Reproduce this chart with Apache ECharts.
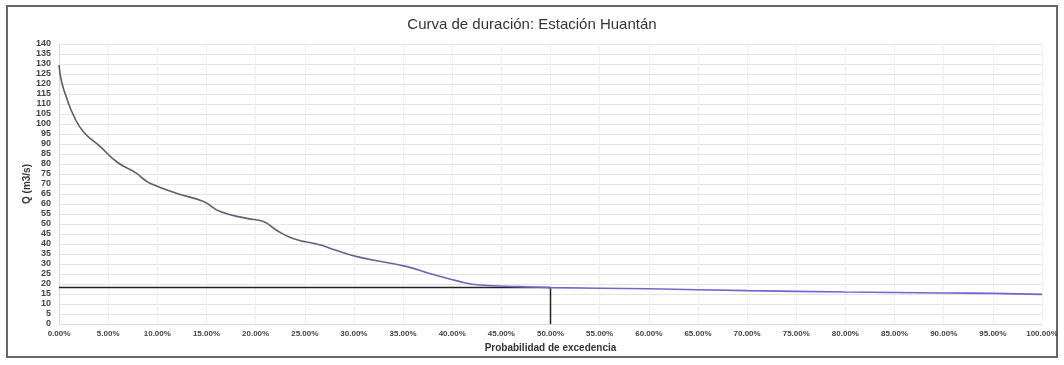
<!DOCTYPE html>
<html>
<head>
<meta charset="utf-8">
<script src="https://cdn.jsdelivr.net/npm/echarts@6/dist/echarts.min.js"></script>
<style>
  html, body { margin: 0; padding: 0; background: #fff; }
  #chart { width: 1064px; height: 365px; }
</style>
</head>
<body>
<div id="chart"></div>
<script>
// Flow duration curve: exceedance probability (%) vs discharge Q (m3/s)
const probability = [0, 0.27, 0.78, 1.46, 2.5, 4.2, 5.9, 7.9, 8.6, 9.3, 12.0, 14.7, 16.4, 19.1, 20.8, 22.1, 23.8, 26.6, 27.6, 30.3, 35.4, 37.7, 40.8, 42.8, 46.9, 50, 60, 70, 80, 90, 95, 100];
const discharge   = [129.5, 121, 113, 104.5, 96, 88.7, 81, 75.3, 72.5, 70.3, 65.3, 61.2, 56.2, 52.8, 51.2, 47, 42.8, 39.5, 37.8, 33.7, 28.7, 25.3, 21.2, 19.5, 18.7, 18.2, 17.6, 16.7, 16.0, 15.5, 15.3, 14.8];

// Median flow (Q50) reference
const medianProb = 50;
const medianQ = 18.2;

const xTicks = { min: 0, max: 100, interval: 5 };
const yTicks = { min: 0, max: 140, interval: 5 };

const curve = probability.map((p, i) => [p, discharge[i]]);
const medianGuide = [[0, medianQ], [medianProb, medianQ], [medianProb, 0]];

const chart = echarts.init(document.getElementById('chart'), null, { renderer: 'canvas' });
const labelFont = "'Liberation Sans Narrow', 'Arial Narrow', 'Liberation Sans', sans-serif";
const textFont = "'Liberation Sans', Arial, sans-serif";

chart.setOption({
  animation: false,
  backgroundColor: '#fff',
  title: {
    text: 'Curva de duración: Estación Huantán',
    left: 'center',
    top: 12,
    textStyle: { fontFamily: textFont, fontSize: 15, fontWeight: 'normal', color: '#333' }
  },
  graphic: [{
    type: 'rect',
    shape: { x: 7, y: 6, width: 1050, height: 351 },
    style: { fill: 'none', stroke: '#666', lineWidth: 2 },
    silent: true, z: -1
  }],
  grid: { left: 59, right: 22, top: 44, bottom: 41 },
  xAxis: {
    type: 'value',
    min: xTicks.min, max: xTicks.max, interval: xTicks.interval,
    name: 'Probabilidad de excedencia',
    nameLocation: 'middle',
    nameGap: 17,
    nameTextStyle: { fontFamily: textFont, fontSize: 10, fontWeight: 'bold', color: '#333' },
    axisLine: { lineStyle: { color: '#d9d9d9' } },
    axisTick: { show: false },
    axisLabel: {
      margin: 6,
      fontFamily: labelFont, fontSize: 8, fontWeight: 'bold', color: '#444',
      formatter: v => v.toFixed(2) + '%'
    },
    splitLine: { show: true, lineStyle: { color: '#f0f0f0', width: 1 } }
  },
  yAxis: {
    type: 'value',
    min: yTicks.min, max: yTicks.max, interval: yTicks.interval,
    name: 'Q (m3/s)',
    nameLocation: 'middle',
    nameGap: 27,
    nameMoveOverlap: false,
    nameRotate: 90,
    nameTextStyle: { fontFamily: textFont, fontSize: 10, fontWeight: 'bold', color: '#333' },
    axisLine: { show: true, lineStyle: { color: '#d9d9d9' } },
    axisTick: { show: false },
    axisLabel: { margin: 8, fontFamily: labelFont, fontSize: 9, fontWeight: 'bold', color: '#444' },
    splitLine: { lineStyle: { color: '#e4e4e4', width: 1 } }
  },
  series: [
    {
      name: 'Q50',
      type: 'line',
      data: medianGuide,
      symbol: 'none',
      lineStyle: { color: '#222', width: 1.5 },
      z: 3
    },
    {
      name: 'Curva de duración',
      type: 'line',
      data: curve,
      smooth: 0.5,
      symbol: 'none',
      lineStyle: {
        width: 1.6,
        color: {
          type: 'linear', x: 0, y: 0, x2: 1, y2: 0,
          colorStops: [
            { offset: 0, color: '#5a5a66' },
            { offset: 0.25, color: '#62607e' },
            { offset: 0.45, color: '#7068c8' },
            { offset: 1, color: '#6a66d4' }
          ]
        }
      },
      z: 4
    }
  ]
});
</script>
</body>
</html>
